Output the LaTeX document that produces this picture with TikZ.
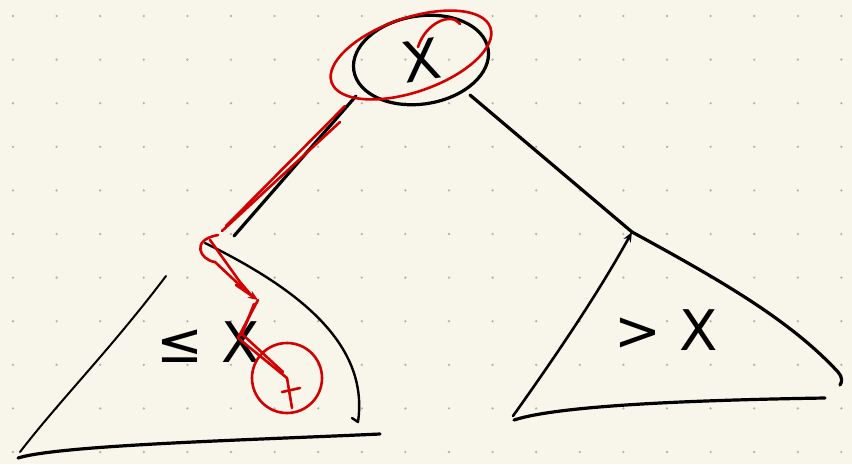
\documentclass[tikz,border=0pt]{standalone}
\usepackage{fontspec}
\setmainfont{DejaVu Sans}
\usetikzlibrary{arrows.meta,shapes.geometric}
\definecolor{paper}{HTML}{F8F6EA}
\definecolor{dotgray}{HTML}{B4B4AA}
\definecolor{penred}{HTML}{D20000}
\tikzset{
  pen/.style={line width=3.2pt, black, line cap=round, line join=round},
  redpen/.style={line width=2.6pt, penred, line cap=round, line join=round},
  hand/.style={font=\fontsize{56}{56}\selectfont}
}
\begin{document}
\begin{tikzpicture}[x=1pt, y=-1pt, >={Stealth[length=10pt,width=8pt]}]
    % paper and dot grid
    \fill[paper] (0,0) rectangle (852,464);
    \useasboundingbox (0,0) rectangle (852,464);
    \foreach \i in {0,...,19}
      \foreach \j in {0,...,10}
        \fill[dotgray] (13+43.6*\i, 16+43.6*\j) circle (1.3pt);

    % root and subtree corners
    \node[ellipse,draw,pen,minimum width=136pt,minimum height=88pt,rotate=9,
          inner sep=0pt,hand] (root) at (421,60) {X};
    \coordinate (lapex) at (234,236);
    \coordinate (rapex) at (632,232);
    \coordinate (rtip) at (287,378);

    % edges from the root
    \draw[pen] (356,96) -- (lapex);
    \draw[pen] (470,95) -- (rapex);

    % left subtree
    \draw[pen, line width=2.4pt] (205,243) .. controls (290,285) and (370,340) .. (358,422)
        -- (352,418);
    \draw[pen, line width=2pt] (166,276) .. controls (110,350) and (60,400) .. (20,452);
    \draw[pen] (18,458) .. controls (60,445) and (250,440) .. (380,434);
    \node[hand] (le) at (208,342) {≤ X};

    % right subtree
    \draw[pen, line width=2.6pt, ->] (513,416) .. controls (560,350) and (600,290) .. (rapex);
    \draw[pen] (rapex) .. controls (720,280) and (790,320) .. (838,372)
        .. controls (843,378) and (842,382) .. (840,385);
    \draw[pen] (514,420) .. controls (560,405) and (700,400) .. (825,398);
    \node[hand] (gt) at (666,330) {> X};

    % red search path
    \draw[redpen, rotate around={19:(411,55)}] (411,55) ellipse [x radius=84pt, y radius=37pt];
    \draw[redpen] (418,47) .. controls (426,22) and (452,12) .. (460,24);
    \draw[redpen] (345,106) -- (226,226);
    \draw[redpen] (340,122) -- (222,231);
    \draw[redpen] (218,235) .. controls (190,240) and (200,260) .. (215,262)
        -- (247,292);
    \draw[redpen] (210,240) -- (240,282) -- (252,296);
    \draw[redpen,->] (236,285) -- (258,300);
    \draw[redpen] (258,300) -- (238,338) -- (rtip);
    \draw[redpen] (254,304) -- (242,334) -- (283,372);
    \node[circle,draw,redpen,minimum size=70pt] (found) at (rtip) {};
    \draw[redpen] (rtip) -- (292,408);
    \draw[redpen] (282,392) -- (300,388);
\end{tikzpicture}
\end{document}
